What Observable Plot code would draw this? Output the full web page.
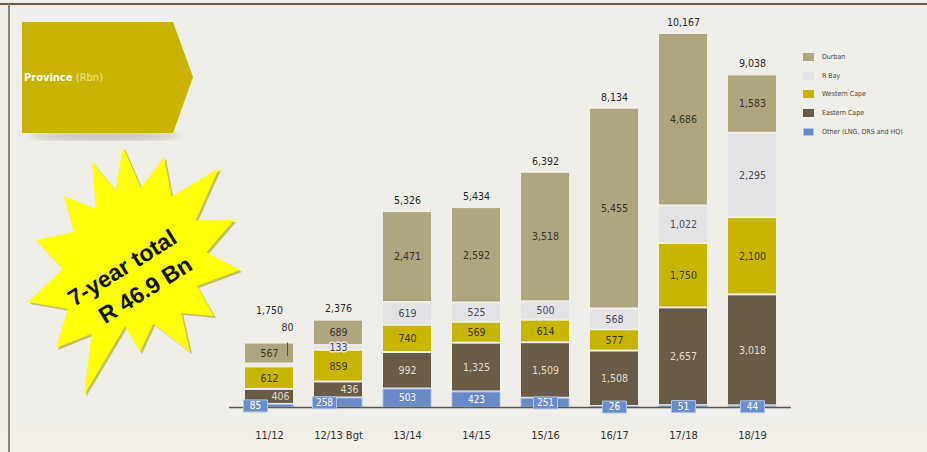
<!DOCTYPE html>
<html><head><meta charset="utf-8">
<script src="https://cdn.jsdelivr.net/npm/d3@7"></script>
<script src="https://cdn.jsdelivr.net/npm/@observablehq/plot@0.6"></script>
<style>
html,body{margin:0;padding:0;background:#efeee8;}
#wrap{position:relative;width:927px;height:452px;overflow:hidden;background:#efeee8;}
#bottomband{position:absolute;left:0;top:429px;width:927px;height:23px;background:#f2efe9;}
#topline{position:absolute;left:0;top:3px;width:927px;height:2px;background:#6a5946;}
#leftline{position:absolute;left:8px;top:4px;width:2px;height:448px;background:#8c8374;}
#chart{position:absolute;left:0;top:0;}
#deco{position:absolute;left:0;top:0;pointer-events:none;}
#legend{position:absolute;left:803px;top:48px;font-family:"DejaVu Sans Condensed","DejaVu Sans",sans-serif;font-stretch:condensed;font-size:7px;color:#4a4640;}
#legend .item{display:flex;align-items:center;height:18.6px;}
#legend .sw{width:11px;height:8px;margin-right:8px;box-sizing:border-box;}
</style></head><body><div id="wrap">
<div id="bottomband"></div>
<div id="chart"></div>
<div id="legend"></div>
<svg id="deco" width="927" height="452"></svg>
<div id="topline"></div><div id="leftline"></div>
</div>
<script>
// ---- data ----
const years = ["11/12", "12/13 Bgt", "13/14", "14/15", "15/16", "16/17", "17/18", "18/19"];
const other = [85, 258, 503, 423, 251, 26, 51, 44];
const easternCape = [406, 436, 992, 1325, 1509, 1508, 2657, 3018];
const westernCape = [612, 859, 740, 569, 614, 577, 1750, 2100];
const rBay = [80, 133, 619, 525, 500, 568, 1022, 2295];
const durban = [567, 689, 2471, 2592, 3518, 5455, 4686, 1583];
const totals = [1750, 2376, 5326, 5434, 6392, 8134, 10167, 9038];
const seriesNames = ["Other (LNG, DRS and HQ)", "Eastern Cape", "Western Cape", "R Bay", "Durban"];
const legendOrder = ["Durban", "R Bay", "Western Cape", "Eastern Cape", "Other (LNG, DRS and HQ)"];
const barColors = {"Durban": "#aea67f", "R Bay": "#e3e3e6", "Western Cape": "#c8b500", "Eastern Cape": "#685b47", "Other (LNG, DRS and HQ)": "#6789c6"};
const labelColors = {"Durban": "#3a3422", "R Bay": "#4a4a5c", "Western Cape": "#3a3300", "Eastern Cape": "#e2dccd", "Other (LNG, DRS and HQ)": "#ffffff"};

const valuesBySeries = {
  "Other (LNG, DRS and HQ)": other, "Eastern Cape": easternCape, "Western Cape": westernCape, "R Bay": rBay, "Durban": durban
};
const rows = [];
years.forEach((yr, i) => seriesNames.forEach(s => rows.push({year: yr, series: s, value: valuesBySeries[s][i], i})));
const totalRows = years.map((yr, i) => ({year: yr, total: totals[i], i}));
const fmt = d3.format(",");
const crowded = i => easternCape[i] < 500;        // small bottom segments: labels pushed aside
const tinyRBay = i => rBay[i] < 100;              // label placed above with leader
const OTHER = seriesNames[0], EAST = seriesNames[1], RB = "R Bay";

const font = "'DejaVu Sans Condensed','DejaVu Sans',sans-serif";
const stackOpts = extra => Plot.stackY({x: "year", y: "value", z: "series", ...extra});

const boxSymbol = {draw(ctx) { ctx.rect(-12, -6, 24, 12); }};
const otherRows = rows.filter(d => d.series === OTHER);

const plot = Plot.plot({
  width: 927, height: 452,
  marginLeft: 229, marginRight: 136, marginTop: 33, marginBottom: 45,
  style: {background: "transparent", fontFamily: font, fontStretch: "condensed"},
  x: {domain: years, paddingInner: 0.31, paddingOuter: 0.2, label: null, tickSize: 0, tickPadding: 24},
  y: {domain: [0, 10167], axis: null},
  color: {type: "identity"},
  marks: [
    Plot.barY(rows, stackOpts({fill: d => barColors[d.series], insetTop: 1, insetBottom: 1})),
    Plot.barY(otherRows, {x: "year", y: "value", fill: barColors[OTHER], stroke: "#a6bfe6", strokeWidth: 1, insetTop: 0.5}),
    Plot.ruleY([0], {stroke: "#5a5650", strokeWidth: 1.5}),
    Plot.axisX({tickSize: 0, tickPadding: 24, fontSize: 11, fill: "#333", label: null}),
    // blue label boxes for small "Other" segments
    Plot.dot(otherRows.filter(d => d.value < 300 && !crowded(d.i)), {x: "year", y: d => d.value / 2, symbol: boxSymbol, fill: "#6b8dcb", stroke: "#a9c3ea", strokeWidth: 1}),
    Plot.dot(otherRows.filter(d => crowded(d.i)), {x: "year", y: d => d.value / 2, symbol: boxSymbol, fill: "#6b8dcb", stroke: "#a9c3ea", strokeWidth: 1, dx: -14}),
    // segment labels (centred)
    Plot.text(rows, stackOpts({
      text: d => (d.series === OTHER || (d.series === EAST && crowded(d.i)) || (d.series === RB && tinyRBay(d.i))) ? "" : fmt(d.value),
      fill: d => labelColors[d.series], stroke: d => barColors[d.series], strokeWidth: 3, fontSize: 10.5
    })),
    // Eastern Cape labels pushed right in crowded bars
    Plot.text(rows, stackOpts({
      text: d => (d.series === EAST && crowded(d.i)) ? fmt(d.value) : "",
      fill: labelColors[EAST], stroke: barColors[EAST], strokeWidth: 3, fontSize: 10.5, dx: 11
    })),
    // Other labels
    Plot.text(otherRows.filter(d => !crowded(d.i)), {
      x: "year", y: d => d.value / 2, text: d => fmt(d.value), fill: "#ffffff", fontSize: 10
    }),
    Plot.text(otherRows.filter(d => crowded(d.i)), {
      x: "year", y: d => d.value / 2, text: d => fmt(d.value), fill: "#ffffff", fontSize: 10, dx: -14
    }),
    // tiny R Bay label with leader line
    Plot.ruleX(rows.filter(d => d.series === RB && tinyRBay(d.i)), {
      x: "year", y1: d => totals[d.i] - durban[d.i] - d.value / 2, y2: d => totals[d.i], insetTop: -9, dx: 18, stroke: "#555", strokeWidth: 1
    }),
    Plot.text(rows.filter(d => d.series === RB && tinyRBay(d.i)), {
      x: "year", y: d => totals[d.i], text: d => fmt(d.value), dx: 18, dy: -16, fill: "#333", fontSize: 10.5
    }),
    // totals
    Plot.text(totalRows.filter(d => !tinyRBay(d.i)), {x: "year", y: "total", text: d => fmt(d.total), fill: "#2a2a2a", fontSize: 10.5, dy: -11}),
    Plot.text(totalRows.filter(d => tinyRBay(d.i)), {x: "year", y: "total", text: d => fmt(d.total), fill: "#2a2a2a", fontSize: 10.5, dy: -33})
  ]
});
document.getElementById("chart").appendChild(plot);

// legend
const legend = document.getElementById("legend");
legendOrder.forEach(s => {
  const it = document.createElement("div"); it.className = "item";
  const sw = document.createElement("span"); sw.className = "sw"; sw.style.background = barColors[s];
  if (s === OTHER) sw.style.border = "1px solid #a9c3ea";
  const tx = document.createElement("span"); tx.textContent = s;
  it.appendChild(sw); it.appendChild(tx); legend.appendChild(it);
});

// decorations: banner and starburst
const deco = d3.select("#deco");
const defs = deco.append("defs");
defs.append("filter").attr("id", "blur").append("feGaussianBlur").attr("stdDeviation", 3);
deco.append("ellipse").attr("cx", 105).attr("cy", 136).attr("rx", 75).attr("ry", 4).attr("fill", "#9a968c").attr("opacity", 0.55).attr("filter", "url(#blur)");
deco.append("polygon").attr("points", "22,22 173,22 193,77 173,133 22,133").attr("fill", "#c7b300");
const bt = deco.append("text").attr("x", 24).attr("y", 81).attr("font-family", "'DejaVu Sans Condensed','DejaVu Sans',sans-serif").attr("font-size", 11).attr("fill", "#ffffff");
bt.append("tspan").attr("font-weight", "bold").text("Province ");
bt.append("tspan").attr("fill", "#ece3a2").text("(Rbn)");

// starburst
const C = [134, 268];
const tips = [[123,147],[164,157],[219,168],[234,220],[240,270],[214,316],[190,352],[140,352],[84,395],[56,348],[28,302],[36,240],[64,196],[92,162]];
const ang = p => Math.atan2(p[1] - C[1], p[0] - C[0]);
const dist = p => Math.hypot(p[0] - C[0], p[1] - C[1]);
const pts = [];
tips.forEach((p, k) => {
  const q = tips[(k + 1) % tips.length];
  pts.push(p);
  let a1 = ang(p), a2 = ang(q);
  if (a2 < a1) a2 += 2 * Math.PI;
  const am = (a1 + a2) / 2, r = 0.7 * Math.min(dist(p), dist(q));
  pts.push([C[0] + r * Math.cos(am), C[1] + r * Math.sin(am)]);
});
const ptsStr = pts.map(p => p.join(",")).join(" ");
deco.append("polygon").attr("points", pts.map(p => [p[0] + 2, p[1] + 2].join(",")).join(" ")).attr("fill", "#b5ad2a").attr("opacity", 0.7);
deco.append("polygon").attr("points", ptsStr).attr("fill", "#ffff05");
const g = deco.append("g").attr("transform", "translate(132,278) rotate(-32)")
  .attr("font-family", "'Liberation Sans',Arial,sans-serif").attr("font-weight", "bold").attr("font-size", 23).attr("fill", "#111").attr("text-anchor", "middle");
g.append("text").attr("x", -3).attr("y", -6).text("7-year total");
g.append("text").attr("x", 5).attr("y", 25).text("R 46.9 Bn");
</script></body></html>
